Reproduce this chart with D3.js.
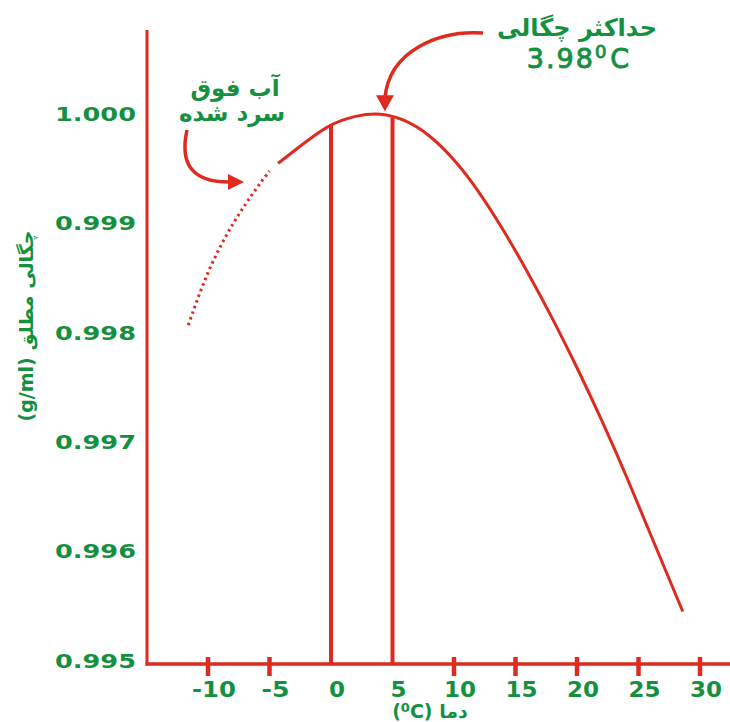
<!DOCTYPE html>
<html>
<head>
<meta charset="utf-8">
<script src="https://cdn.jsdelivr.net/npm/d3@7"></script>
<style>
  html, body { margin: 0; padding: 0; background: #fff; }
  svg { display: block; }
  text { font-family: "DejaVu Sans", sans-serif; font-weight: bold; fill: #14903f; }
  text.light { font-weight: normal; }
</style>
</head>
<body>
<svg id="chart" width="730" height="722"></svg>
<script>
// Density of water (g/ml) against temperature (°C)
// Supercooled branch (below 0 °C, drawn dotted)
const superTemps   = [-11.6, -10, -8, -6, -5.0];
const superDensity = [0.99807, 0.99855, 0.99899, 0.99933, 0.99948];
// Liquid branch (drawn solid)
const liquidTemps   = [-4.3, -2, 0, 2, 4, 6, 8, 10, 12, 14, 16, 18, 20, 22, 24, 26, 28.6];
const liquidDensity = [0.99955, 0.99975, 0.99990, 0.99998, 1.00000, 0.99994, 0.99980, 0.99958,
                       0.99929, 0.99894, 0.99855, 0.99813, 0.99768, 0.99720, 0.99669, 0.99615, 0.99545];

// Reference temperatures marked with vertical lines, and density there
const markTemps   = [0, 5];
const markDensity = [0.99990, 0.99997];

const maxDensityTemp = 3.98;
const maxDensity = 1.00000;

const xTickValues = [-10, -5, 0, 5, 10, 15, 20, 25, 30];
const xTickMarks  = [-10, -5, 10, 15, 20, 25, 30];
const yTickValues = [0.995, 0.996, 0.997, 0.998, 0.999, 1.000];

const RED = "#de2a1f";

const svg = d3.select("#chart");

const x = d3.scaleLinear().domain([-10, 30]).range([208, 700]);
const y = d3.scaleLinear().domain([0.99497, 1.00077]).range([664, 30]);

const axisX = 147;
const axisY = y(0.99497);

// Axis lines
svg.append("line")
  .attr("x1", axisX).attr("x2", axisX)
  .attr("y1", y.range()[1]).attr("y2", axisY + 1.5)
  .attr("stroke", RED).attr("stroke-width", 3);
svg.append("line")
  .attr("x1", axisX - 1.5).attr("x2", 730)
  .attr("y1", axisY).attr("y2", axisY)
  .attr("stroke", RED).attr("stroke-width", 3.5);

// X tick marks crossing the axis
svg.append("g").selectAll("line")
  .data(xTickMarks).join("line")
  .attr("x1", d => x(d)).attr("x2", d => x(d))
  .attr("y1", axisY - 7).attr("y2", axisY + 12)
  .attr("stroke", RED).attr("stroke-width", 4.5);

// X tick labels (wide geometric digits)
const xLabel = d => String(d);
svg.append("g").selectAll("text")
  .data(xTickValues).join("text")
  .attr("x", d => x(d) + 6)
  .attr("y", axisY + 33)
  .attr("text-anchor", "middle")
  .attr("font-size", 22)
  .attr("textLength", d => xLabel(d).replace("-", "").length * 16 + (d < 0 ? 12 : 0))
  .attr("lengthAdjust", "spacingAndGlyphs")
  .text(xLabel);

// Y tick labels
svg.append("g").selectAll("text")
  .data(yTickValues).join("text")
  .attr("x", 136)
  .attr("y", d => y(d) + 7)
  .attr("text-anchor", "end")
  .attr("font-size", 20)
  .attr("textLength", 81)
  .attr("lengthAdjust", "spacingAndGlyphs")
  .text(d => d3.format(".3f")(d));

// Vertical reference lines
svg.append("g").selectAll("line")
  .data(markTemps).join("line")
  .attr("x1", d => x(d)).attr("x2", d => x(d))
  .attr("y1", axisY)
  .attr("y2", (d, i) => y(markDensity[i]))
  .attr("stroke", RED).attr("stroke-width", 4);

// Density curve
const line = d3.line()
  .x(d => x(d[0]))
  .y(d => y(d[1]))
  .curve(d3.curveNatural);

svg.append("path")
  .datum(superTemps.map((t, i) => [t, superDensity[i]]))
  .attr("d", line)
  .attr("fill", "none")
  .attr("stroke", RED)
  .attr("stroke-width", 3)
  .attr("stroke-dasharray", "2.5,3.5");

svg.append("path")
  .datum(liquidTemps.map((t, i) => [t, liquidDensity[i]]))
  .attr("d", line)
  .attr("fill", "none")
  .attr("stroke", RED)
  .attr("stroke-width", 3);

// Arrow: maximum density annotation
const tipX = x(maxDensityTemp) + 5, tipY = y(maxDensity) - 3;
svg.append("path")
  .attr("d", `M483,33 C440,30 ${tipX + 4},50 ${tipX},${tipY - 13}`)
  .attr("fill", "none").attr("stroke", RED).attr("stroke-width", 3.5);
svg.append("path")
  .attr("d", `M${tipX},${tipY} L${tipX - 9},${tipY - 16} L${tipX + 9},${tipY - 16} Z`)
  .attr("fill", RED);

// Arrow: supercooled water annotation
svg.append("path")
  .attr("d", "M187,130 C180,162 190,182 229,182")
  .attr("fill", "none").attr("stroke", RED).attr("stroke-width", 3.5);
svg.append("path")
  .attr("d", "M244,182 L228,174 L228,190 Z")
  .attr("fill", RED);

// Annotation texts
svg.append("text")
  .attr("x", 577).attr("y", 36)
  .attr("text-anchor", "middle")
  .attr("font-size", 24)
  .text("حداکثر چگالی");

const peakLabel = svg.append("text")
  .attr("class", "light")
  .attr("x", 579).attr("y", 68)
  .attr("text-anchor", "middle")
  .attr("font-size", 27)
  .attr("stroke", "#14903f").attr("stroke-width", 0.9)
  .attr("letter-spacing", 2);
peakLabel.append("tspan").text("3.98");
peakLabel.append("tspan").attr("font-size", 18).attr("dy", -10).text("0");
peakLabel.append("tspan").attr("dy", 10).attr("dx", 2).text("C");

svg.append("text")
  .attr("x", 235).attr("y", 96)
  .attr("text-anchor", "middle")
  .attr("font-size", 23)
  .text("آب فوق");
svg.append("text")
  .attr("x", 232).attr("y", 121)
  .attr("text-anchor", "middle")
  .attr("font-size", 23)
  .text("سرد شده");

// Axis titles
const xTitle = svg.append("text")
  .attr("x", 430).attr("y", 718)
  .attr("text-anchor", "middle")
  .attr("font-size", 19);
xTitle.append("tspan").text("(");
xTitle.append("tspan").attr("font-size", 13).attr("dy", -6).text("0");
xTitle.append("tspan").attr("dy", 6).text("C) دما");

svg.append("text")
  .attr("transform", "translate(33,326) rotate(-90)")
  .attr("text-anchor", "middle")
  .attr("font-size", 19)
  .text("(g/ml) چگالی مطلق");
</script>
</body>
</html>
